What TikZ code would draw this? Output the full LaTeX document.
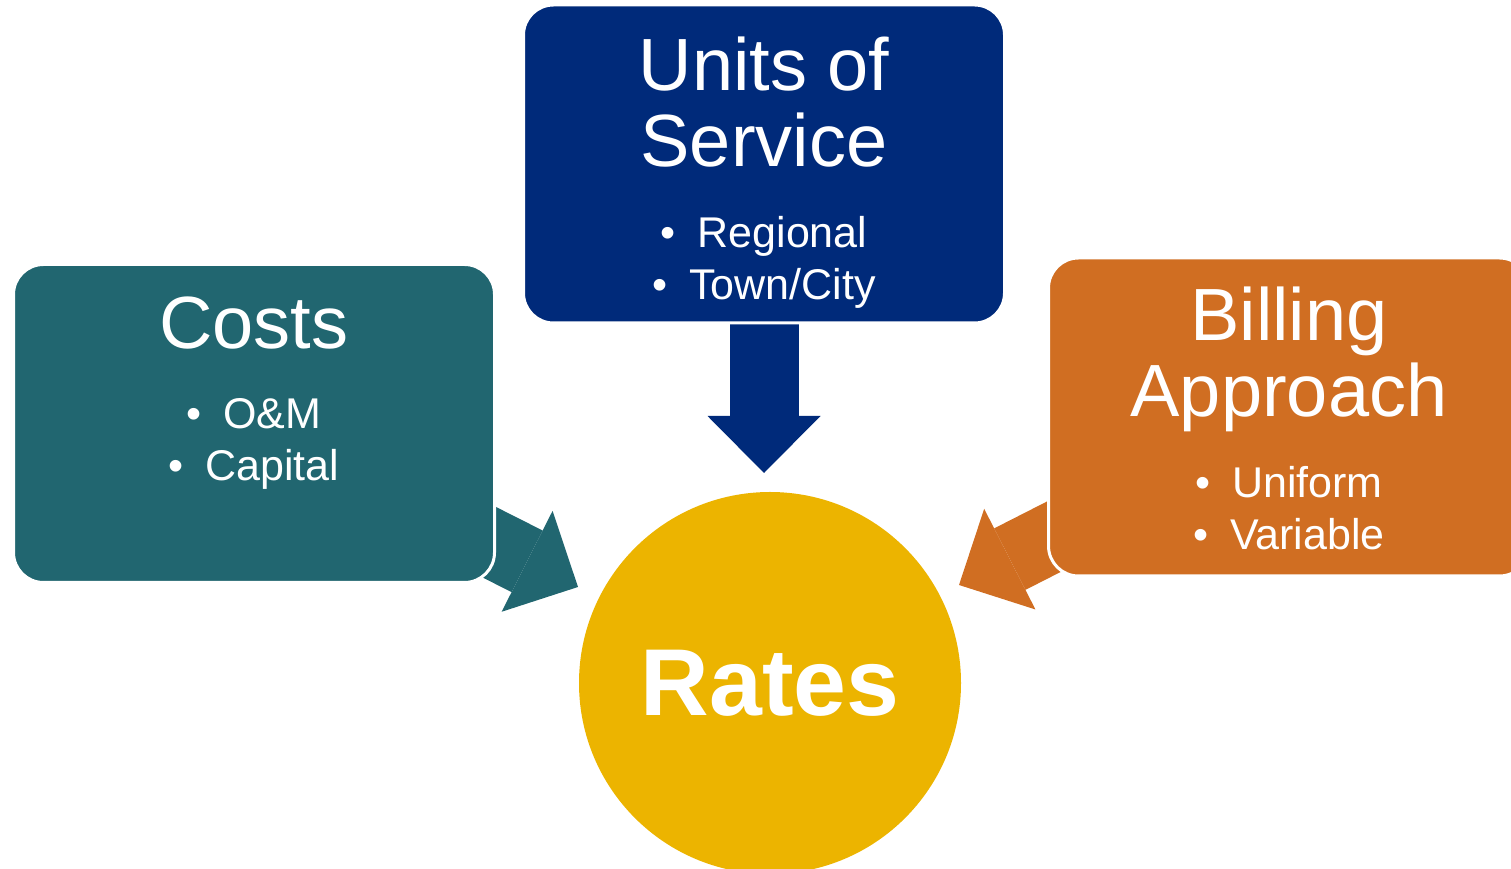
\documentclass[tikz,border=0pt]{standalone}
\usepackage{fontspec}
\setmainfont{Liberation Sans}
\usetikzlibrary{arrows.meta,backgrounds}
\definecolor{costteal}{RGB}{33,102,112}
\definecolor{unitblue}{RGB}{0,42,122}
\definecolor{billorange}{RGB}{208,110,34}
\definecolor{rategold}{RGB}{236,180,0}
\tikzset{
	box/.style={rectangle,rounded corners=30,draw=white,line width=3,minimum width=481,minimum height=318,inner sep=0},
	titletext/.style={text=white,align=center,inner sep=0,font=\fontsize{74}{76}\selectfont},
	itemtext/.style={text=white,align=center,inner sep=0,font=\fontsize{43}{52}\selectfont},
	fatarrow/.style={line width=69,-{Triangle[width=113pt,length=57pt,line width=0pt]}},
}
\newcommand{\itm}[1]{\textbullet\hspace{22pt}#1}
\begin{document}
\begin{tikzpicture}[x=1pt,y=1pt]
	\useasboundingbox (0,0) rectangle (1511,869);
	\clip (0,0) rectangle (1511,869);
	\node[box,fill=costteal] (costs) at (254,445.5) {};
	\node[box,fill=unitblue] (units) at (764,705) {};
	\node[box,fill=billorange] (billing) at (1289,452) {};
	\node[circle,fill=rategold,minimum size=382,inner sep=0,text=white,font=\bfseries\fontsize{95}{95}\selectfont] (rates) at (770,186) {Rates};
	\coordinate (tipC) at (578,282);
	\coordinate (tipU) at (764,396);
	\coordinate (tipB) at (959,284);
	\begin{pgfonlayer}{background}
		\draw[fatarrow,costteal] (costs.center) to (tipC);
		\draw[fatarrow,unitblue] (units.center) to (tipU);
		\draw[fatarrow,billorange] (billing.center) to (tipB);
	\end{pgfonlayer}
	\node[titletext,anchor=base] (costsT) at ([yshift=75]costs.center) {Costs};
	\node[itemtext,anchor=base] (costsL) at ([yshift=-57.5]costs.center) {\itm{O\&M}\\\itm{Capital}};
	\node[titletext,anchor=base] (unitsT) at ([yshift=-3]units.center) {Units of\\Service};
	\node[itemtext,anchor=base] (unitsL) at ([yshift=-136]units.center) {\itm{Regional}\\\itm{Town/City}};
	\node[titletext,anchor=base] (billingT) at (billing.center) {Billing\\Approach};
	\node[itemtext,anchor=base] (billingL) at ([yshift=-133]billing.center) {\itm{Uniform}\\\itm{Variable}};
\end{tikzpicture}
\end{document}
